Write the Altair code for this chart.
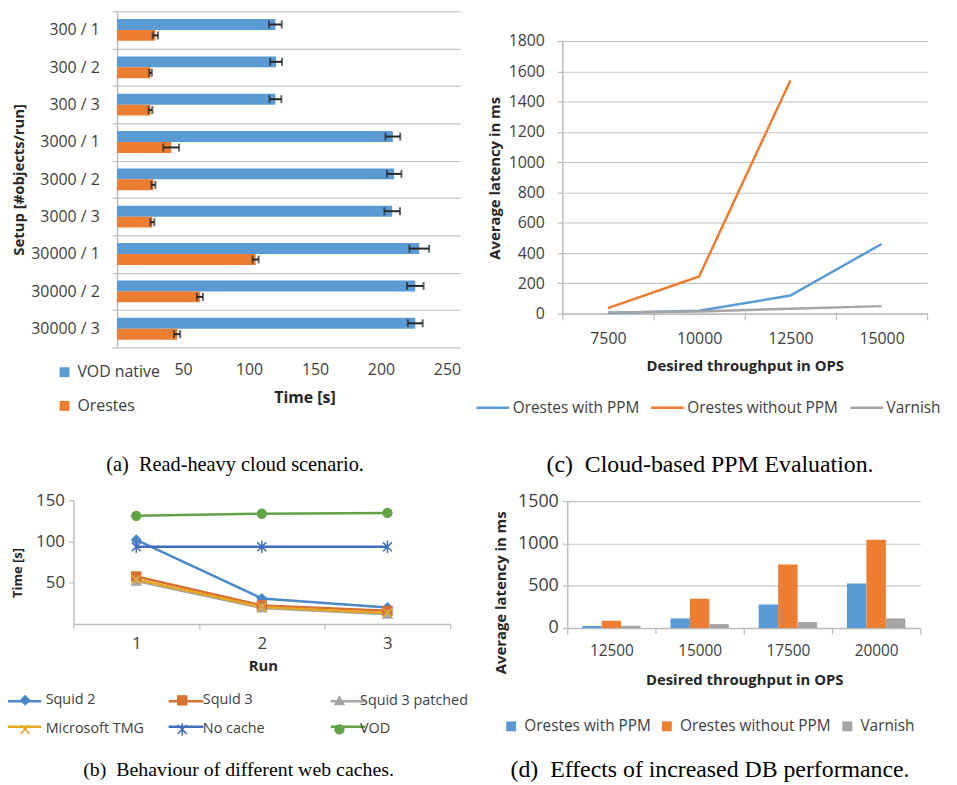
import altair as alt
import pandas as pd

FONT = "Open Sans"
SERIF = "Liberation Serif"
LBL = "#404040"
TTL = "#262626"
GRID = "#c4c4c4"
DOM = "#bdbdbd"
ERR = "#262626"
BLUE = "#5B9BD5"
ORANGE = "#ED7D31"
GRAY = "#A5A5A5"

# ---------------- (a) Read-heavy cloud scenario ----------------
setups = ["300 / 1", "300 / 2", "300 / 3", "3000 / 1", "3000 / 2", "3000 / 3",
          "30000 / 1", "30000 / 2", "30000 / 3"]
series_a = ["VOD native", "Orestes"]
vod_native = [120, 120.5, 120, 209, 210, 208.5, 229, 226, 226]
vod_err = [4.8, 4.5, 4.5, 5.6, 5.5, 5.9, 7.5, 6.3, 5.6]
orestes = [29, 25.3, 25.3, 41, 27.5, 26.7, 105, 62.8, 45.5]
orestes_err = [2, 1, 1.4, 6, 1.5, 1.5, 2.3, 2.3, 2.3]
ticks_a = [50, 100, 150, 200, 250]

# ---------------- (c) Cloud-based PPM evaluation ----------------
thr_c = ["7500", "10000", "12500", "15000"]
series_c = ["Orestes with PPM", "Orestes without PPM", "Varnish"]
with_ppm_c = [5, 20, 120, 460]
without_ppm_c = [37, 246, 1540]
varnish_c = [8, 15, 33, 50]
ticks_c = [0, 200, 400, 600, 800, 1000, 1200, 1400, 1600, 1800]

# ---------------- (b) Behaviour of web caches ----------------
runs = ["1", "2", "3"]
series_b = ["Squid 2", "Squid 3", "Squid 3 patched", "Microsoft TMG", "No cache", "VOD"]
squid2 = [102, 31, 20]
squid3 = [57.5, 22.5, 16]
squid3_patched = [52, 19.5, 12]
ms_tmg = [54, 20.5, 13.5]
no_cache = [93.5, 93.5, 93.5]
vod_b = [131, 133.5, 134.5]
ticks_b = [50, 100, 150]
colors_b = ["#4A88C8", "#D9702F", "#A5A5A5", "#E6A823", "#3F6EBF", "#62A346"]
fills_b = ["#4A88C8", "#D9702F", "#A5A5A5", "transparent", "transparent", "#62A346"]
shapes_b = ["diamond", "square", "triangle-up",
            "M-1,-1L1,1M-1,1L1,-1",
            "M-1,-1L1,1M-1,1L1,-1M0,-1.4L0,1.4",
            "circle"]

# ---------------- (d) Increased DB performance ----------------
thr_d = ["12500", "15000", "17500", "20000"]
series_d = ["Orestes with PPM", "Orestes without PPM", "Varnish"]
with_ppm_d = [24, 114, 279, 526]
without_ppm_d = [86, 346, 750, 1044]
varnish_d = [27, 47, 71, 114]
ticks_d = [0, 500, 1000, 1500]


def ax(**kw):
    base = dict(labelFont=FONT, titleFont=FONT, labelColor=LBL, titleColor=TTL,
                titleFontWeight="bold", domainColor=DOM, tickColor=DOM, gridColor=GRID,
                titleAlign="center", titleBaseline="middle")
    base.update(kw)
    return alt.Axis(**base)


def caption(text, x, y, size):
    return alt.Chart(pd.DataFrame({"s": [0]})).mark_text(
        text=text, font=SERIF, fontSize=size, color="black", align="center", baseline="middle"
    ).encode(x=alt.value(x), y=alt.value(y))


def long_df(cats, names, lists, catname, valname):
    rows = []
    for s, vals in zip(names, lists):
        for c, v in zip(cats, vals):
            rows.append({catname: c, "series": s, valname: v})
    return pd.DataFrame(rows)


# ---- panel A (cell 390 x 339, plot starts 44px in) ----
dfa = pd.DataFrame({
    "setup": setups + setups,
    "series": [series_a[0]] * len(setups) + [series_a[1]] * len(setups),
    "value": vod_native + orestes,
    "err": vod_err + orestes_err,
})
dfa["lo"] = dfa["value"] - dfa["err"]
dfa["hi"] = dfa["value"] + dfa["err"]

axis_ya = ax(title="Setup [#objects/run]", tickBand="extent", grid=True, gridWidth=1.2,
             domain=True, domainWidth=1.5, ticks=True, tickSize=5, tickWidth=1.2, offset=-44,
             labelFontSize=16, labelPadding=13, titleFontSize=15, titleAngle=270,
             titleX=-99, titleY=169.5)
axis_xa = ax(title="Time [s]", values=ticks_a, grid=False, domain=False, ticks=False,
             tickSize=0, labelFontSize=16, labelPadding=14, titleFontSize=16,
             titleX=233, titleY=51)
ya = alt.Y("setup:N", sort=setups, scale=alt.Scale(paddingInner=0, paddingOuter=0), axis=axis_ya)
yoa = alt.YOffset("series:N", sort=series_a, scale=alt.Scale(paddingInner=0, paddingOuter=0.71))
xa = alt.X("value:Q", scale=alt.Scale(domain=[0, 260], nice=False, range=[44, 390]), axis=axis_xa)
bars_a = alt.Chart(dfa).mark_bar().encode(
    x=xa, y=ya, yOffset=yoa,
    color=alt.Color("series:N", sort=series_a, scale=alt.Scale(domain=series_a, range=[BLUE, ORANGE]),
                    legend=alt.Legend(title=None, orient="none", legendX=-17, legendY=356,
                                      direction="vertical", symbolType="square", symbolSize=100,
                                      symbolStrokeWidth=0, labelFontSize=16, labelFont=FONT,
                                      labelColor=LBL, labelOffset=5, rowPadding=18, padding=0)))
y_same = alt.Y("setup:N", sort=setups, axis=axis_ya)
yo_same = alt.YOffset("series:N", sort=series_a)
err_a = alt.Chart(dfa).mark_rule(color=ERR, strokeWidth=2).encode(
    x=alt.X("lo:Q", axis=axis_xa), x2="hi:Q", y=y_same, yOffset=yo_same)
cap_lo = alt.Chart(dfa).mark_tick(color=ERR, thickness=2, size=8).encode(
    x=alt.X("lo:Q", axis=axis_xa), y=y_same, yOffset=yo_same)
cap_hi = alt.Chart(dfa).mark_tick(color=ERR, thickness=2, size=8).encode(
    x=alt.X("hi:Q", axis=axis_xa), y=y_same, yOffset=yo_same)
panel_a = alt.layer(bars_a, err_a, cap_lo, cap_hi,
                    caption("(a)\u2002Read-heavy cloud scenario.", 163, 458, 20.5)
                    ).properties(width=390, height=339)

# ---- panel C (cell 368 x 305, plot starts 30px down) ----
dfc = long_df(thr_c, series_c, [with_ppm_c, without_ppm_c, varnish_c], "thr", "latency")
lines_c = alt.Chart(dfc).mark_line(strokeWidth=2.5).encode(
    x=alt.X("thr:O", sort=thr_c, bandPosition=0.5,
            scale=alt.Scale(type="band", paddingInner=0, paddingOuter=0),
            axis=ax(title="Desired throughput in OPS", tickBand="extent", labelAngle=0, grid=False,
                    domain=True, domainWidth=1.5, ticks=True, tickSize=6, tickWidth=1.2,
                    labelFontSize=16, labelPadding=11, titleFontSize=15, titleX=184, titleY=52)),
    y=alt.Y("latency:Q", scale=alt.Scale(domain=[0, 1800], nice=False, range=[305, 30]),
            axis=ax(title="Average latency in ms", values=ticks_c, format="d", grid=True, gridWidth=1.2,
                    domain=True, domainWidth=1.5, ticks=True, tickSize=5, tickWidth=1.2,
                    labelFontSize=16, labelPadding=13, titleFontSize=15, titleAngle=270,
                    titleX=-68, titleY=168)),
    color=alt.Color("series:N", sort=series_c, scale=alt.Scale(domain=series_c, range=[BLUE, ORANGE, GRAY]),
                    legend=alt.Legend(title=None, orient="none", legendX=-88, legendY=381.5,
                                      direction="horizontal", symbolType="stroke", symbolSize=1089,
                                      symbolStrokeWidth=2.5, labelFontSize=15.5, labelFont=FONT,
                                      labelColor=LBL, labelOffset=2, columnPadding=6, padding=0)))
panel_c = alt.layer(lines_c, caption("(c)\u2002Cloud-based PPM Evaluation.", 149, 458, 24)
                    ).properties(width=368, height=305)

# ---- panel B (cell 380 x 125) ----
dfb = long_df(runs, series_b, [squid2, squid3, squid3_patched, ms_tmg, no_cache, vod_b], "run", "time")
dfb["line"] = dfb["series"]
axis_xb = ax(title="Run", tickBand="extent", labelAngle=0, grid=False, domain=True,
             domainWidth=1.5, ticks=True, tickSize=5, tickWidth=1.2, labelFontSize=17,
             labelPadding=7, titleFontSize=15, titleX=191, titleY=42)
axis_yb = ax(title="Time [s]", values=ticks_b, grid=False, domain=True, domainWidth=1.5,
             ticks=True, tickSize=5, tickWidth=1.2, labelFontSize=17, labelPadding=4,
             titleFontSize=13, titleAngle=270, titleX=-56, titleY=73)
xb = alt.X("run:O", sort=runs, bandPosition=0.5,
           scale=alt.Scale(type="band", paddingInner=0, paddingOuter=0), axis=axis_xb)
yb = alt.Y("time:Q", scale=alt.Scale(domain=[0, 150], nice=False), axis=axis_yb)
# line-sample legend (no text) underneath, marker legend with the labels on top
leg_b_lines = alt.Legend(title=None, orient="none", legendX=-69, legendY=183.5, columns=3,
                         gridAlign="all", direction="horizontal", symbolType="stroke",
                         symbolSize=1225, symbolStrokeWidth=2.5, labelFontSize=14.5, labelFont=FONT,
                         labelExpr="''", labelOffset=0, columnPadding=117.5, rowPadding=-1, padding=0)
leg_b_marks = alt.Legend(title=None, orient="none", legendX=-56, legendY=193.5, columns=3,
                         gridAlign="all", direction="horizontal",
                         symbolSize=80, symbolStrokeWidth=1.5, labelFontSize=14.5, labelFont=FONT,
                         labelColor=LBL, labelOffset=13.5, columnPadding=19.5, rowPadding=10.5, padding=0)
lines_b = alt.Chart(dfb).mark_line(strokeWidth=2.5).encode(
    x=xb, y=yb,
    color=alt.Color("line:N", sort=series_b, scale=alt.Scale(range=colors_b), legend=leg_b_lines))
pts_b = alt.Chart(dfb).mark_point(filled=False, opacity=1, size=80, strokeWidth=1.5).encode(
    x=alt.X("run:O", sort=runs, bandPosition=0.5, axis=axis_xb),
    y=alt.Y("time:Q", axis=axis_yb),
    stroke=alt.Stroke("series:N", sort=series_b, scale=alt.Scale(domain=series_b, range=colors_b), legend=leg_b_marks),
    fill=alt.Fill("series:N", sort=series_b, scale=alt.Scale(domain=series_b, range=fills_b), legend=leg_b_marks),
    shape=alt.Shape("series:N", sort=series_b, scale=alt.Scale(domain=series_b, range=shapes_b), legend=leg_b_marks))
panel_b = alt.layer(lines_b, pts_b, caption("(b)\u2002Behaviour of different web caches.", 166.5, 272, 20)
                    ).properties(width=380, height=125)

# ---- panel D (cell 361 x 129, plot starts 5px in and 1px down) ----
dfd = long_df(thr_d, series_d, [with_ppm_d, without_ppm_d, varnish_d], "thr", "latency")
bars_d = alt.Chart(dfd).mark_bar().encode(
    x=alt.X("thr:N", sort=thr_d, scale=alt.Scale(paddingInner=0, paddingOuter=0, range=[5, 361]),
            axis=ax(title="Desired throughput in OPS", tickBand="extent", labelAngle=0, grid=False,
                    domain=True, domainWidth=1.5, ticks=True, tickSize=6, tickWidth=1.2,
                    labelFontSize=15.5, labelPadding=10, titleFontSize=15, titleX=183.5, titleY=52)),
    xOffset=alt.XOffset("series:N", sort=series_d, scale=alt.Scale(paddingInner=0, paddingOuter=0.77)),
    y=alt.Y("latency:Q", scale=alt.Scale(domain=[0, 1500], nice=False, range=[129, 1]),
            axis=ax(title="Average latency in ms", values=ticks_d, format="d", grid=True, gridWidth=1.2,
                    domain=True, domainWidth=1.5, ticks=True, tickSize=5, tickWidth=1.2, offset=-5,
                    labelFontSize=18, labelPadding=4, titleFontSize=15, titleAngle=270,
                    titleX=-67, titleY=93)),
    color=alt.Color("series:N", sort=series_d, scale=alt.Scale(domain=series_d, range=[BLUE, ORANGE, GRAY]),
                    legend=alt.Legend(title=None, orient="none", legendX=-59.3, legendY=220,
                                      direction="horizontal", symbolType="square", symbolSize=100,
                                      symbolStrokeWidth=0, labelFontSize=15.5, labelFont=FONT,
                                      labelColor=LBL, labelOffset=5.5, columnPadding=8, padding=0)))
panel_d = alt.layer(bars_d, caption("(d)\u2002Effects of increased DB performance.", 149, 272, 24)
                    ).properties(width=361, height=129)

chart = alt.concat(panel_a, panel_c, panel_b, panel_d, columns=2,
                   spacing={"row": 154, "column": 103}, bounds="flush").resolve_scale(
    color="independent", stroke="independent", fill="independent", shape="independent",
    xOffset="independent", yOffset="independent"
).resolve_legend(
    color="independent", stroke="independent", fill="independent", shape="independent"
).properties(
    autosize=alt.AutoSizeParams(type="none"),
    padding={"left": 66, "top": 0, "right": 883, "bottom": 777},
).configure(font=FONT).configure_view(strokeWidth=0)

chart.save("out.html", embed_options={"renderer": "svg", "actions": False})
